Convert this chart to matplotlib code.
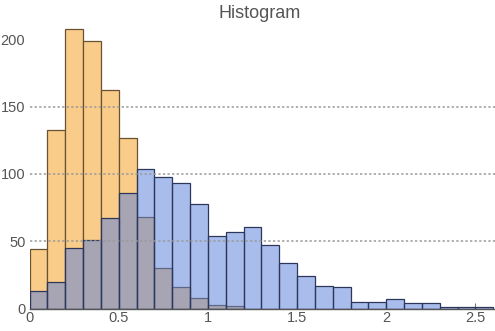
import matplotlib
matplotlib.use("Agg")
import matplotlib.pyplot as plt
import numpy as np

# bin edges (width 0.1) and counts
bin_edges = np.round(np.arange(0, 2.61, 0.1), 2)
orange_counts = [44, 133, 208, 199, 162, 127, 68, 30, 16, 8, 3, 2,
                 0, 0, 0, 0, 0, 0, 0, 0, 0, 0, 0, 0, 0, 0]
blue_counts = [13, 20, 45, 51, 67, 86, 104, 98, 93, 78, 54, 57,
               61, 47, 34, 24, 17, 16, 5, 5, 7, 4, 4, 1, 1, 1]

x_ticks = [0, 0.5, 1, 1.5, 2, 2.5]
x_tick_labels = ["0", "0.5", "1", "1.5", "2", "2.5"]
y_ticks = [0, 50, 100, 150, 200]
y_tick_labels = ["0", "50", "100", "150", "200"]

plt.rcParams['font.family'] = ['Liberation Sans', 'DejaVu Sans']

fig = plt.figure(figsize=(4.95, 3.31), dpi=100)
ax = fig.add_axes([29.5 / 495, 22.3 / 331, 1 - 29.5 / 495, (308.7 - 25) / 331])

lefts = bin_edges[:-1]
width = 0.1
ax.bar(lefts, orange_counts, width=width, align="edge",
       color=(250/255, 204/255, 138/255), edgecolor=(105/255, 82/255, 50/255),
       linewidth=0.9, zorder=2)
ax.bar(lefts, blue_counts, width=width, align="edge",
       color=(85/255, 125/255, 221/255, 0.5), edgecolor=(45/255, 55/255, 90/255),
       linewidth=0.9, zorder=3)

# dotted grid lines drawn over the bars
for yv in [50, 100, 150]:
    ax.axhline(yv, color="#9a9a9a", linestyle=(0, (1.5, 1.5)), linewidth=1.1, zorder=4)

ax.set_xlim(0, 2.61)
ax.set_ylim(0, 210.6)

for side in ["left", "right", "top"]:
    ax.spines[side].set_visible(False)
ax.spines["bottom"].set_color("#555555")
ax.spines["bottom"].set_linewidth(1.0)
ax.spines["bottom"].set_zorder(5)

ax.set_xticks(x_ticks)
ax.set_xticklabels(x_tick_labels)
ax.set_yticks(y_ticks)
ax.set_yticklabels(y_tick_labels)
ax.tick_params(axis="x", which="major", direction="in", length=4, width=0.8,
               color="#777777", labelsize=10.5, labelcolor="#555555", pad=2)
ax.tick_params(axis="y", length=0, labelsize=10.5, labelcolor="#555555", pad=3)

ax.set_title("Histogram", fontsize=13, color="#555555", pad=5, x=0.495)

fig.savefig("out.png", dpi=100)
